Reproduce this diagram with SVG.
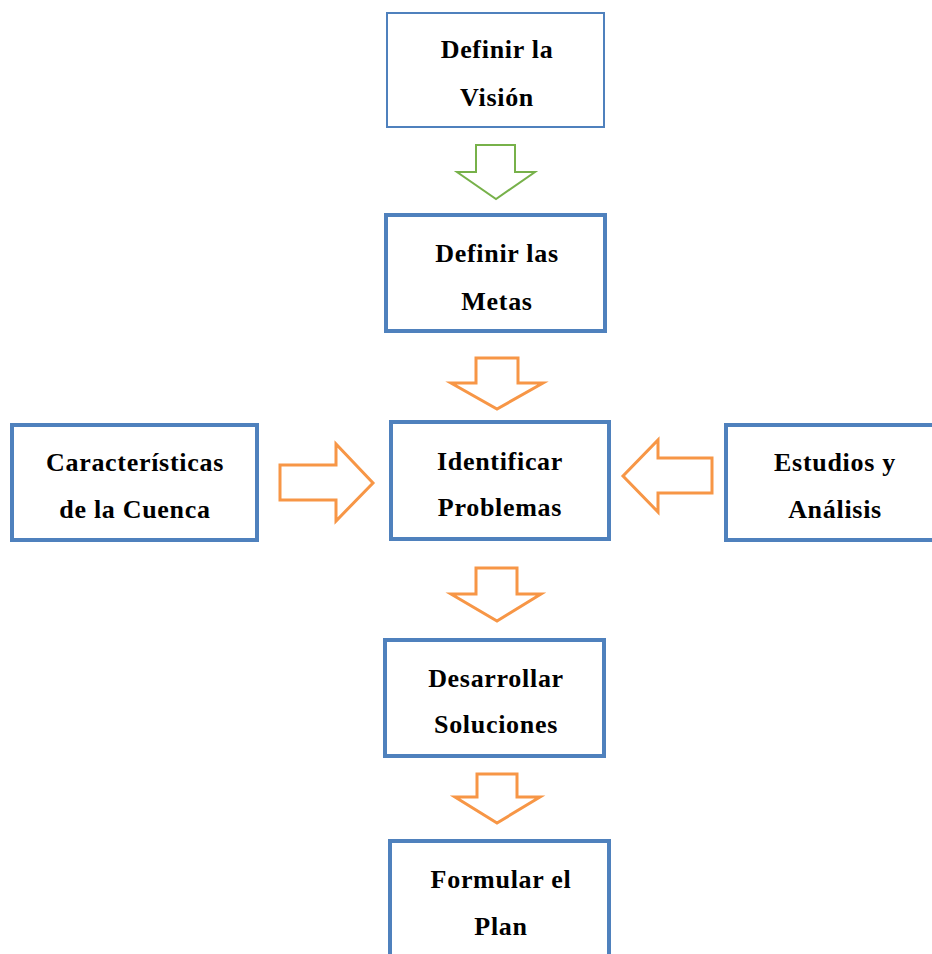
<svg xmlns="http://www.w3.org/2000/svg" width="932" height="954" viewBox="0 0 932 954">
<style>
.box{fill:#fff;stroke:#4F81BD;stroke-width:4}
.thin{stroke-width:2}
.t{font-family:"Liberation Serif","Times New Roman",serif;font-weight:bold;font-size:26px;letter-spacing:0.7px;fill:#000;text-anchor:middle}
.arr{fill:#fff;stroke:#F79646;stroke-width:3;stroke-linejoin:miter}
.garr{fill:#fff;stroke:#77B14A;stroke-width:2}
</style>
<rect width="932" height="954" fill="#fff"/>
<g id="connectors">
<polygon class="garr" points="476,145 515,145 515,172 535,172 496,199 457,172 476,172"/>
<polygon class="arr" points="476,358 518,358 518,383 543,383 497,409 451,383 476,383"/>
<polygon class="arr" points="280,465 336,465 336,444 373,483 336,521 336,500 280,500"/>
<polygon class="arr" points="712,458 658,458 658,440 623,476 658,512 658,493 712,493"/>
<polygon class="arr" points="476,568 517,568 517,594 541,594 497,621 451,594 476,594"/>
<polygon class="arr" points="477,774 517,774 517,797 540,797 497,823 455,797 477,797"/>
</g>
<g id="vision">
<rect class="box thin" x="387" y="13" width="217" height="114"/>
<text class="t" x="497" y="58">Definir la</text>
<text class="t" x="497" y="106">Visión</text>
</g>
<g id="metas">
<rect class="box" x="386" y="215" width="219" height="116"/>
<text class="t" x="497" y="262">Definir las</text>
<text class="t" x="497" y="310">Metas</text>
</g>
<g id="cuenca">
<rect class="box" x="12" y="425" width="245" height="115"/>
<text class="t" x="135" y="471">Características</text>
<text class="t" x="135" y="518">de la Cuenca</text>
</g>
<g id="problemas">
<rect class="box" x="391" y="422" width="218" height="117"/>
<text class="t" x="500" y="470">Identificar</text>
<text class="t" x="500" y="516">Problemas</text>
</g>
<g id="estudios">
<rect class="box" x="726" y="425" width="230" height="115"/>
<text class="t" x="835" y="471">Estudios y</text>
<text class="t" x="835" y="518">Análisis</text>
</g>
<g id="soluciones">
<rect class="box" x="385" y="640" width="219" height="116"/>
<text class="t" x="496" y="687">Desarrollar</text>
<text class="t" x="496" y="733">Soluciones</text>
</g>
<g id="plan">
<rect class="box" x="390" y="841" width="219" height="130"/>
<text class="t" x="501" y="888">Formular el</text>
<text class="t" x="501" y="935">Plan</text>
</g>
</svg>
